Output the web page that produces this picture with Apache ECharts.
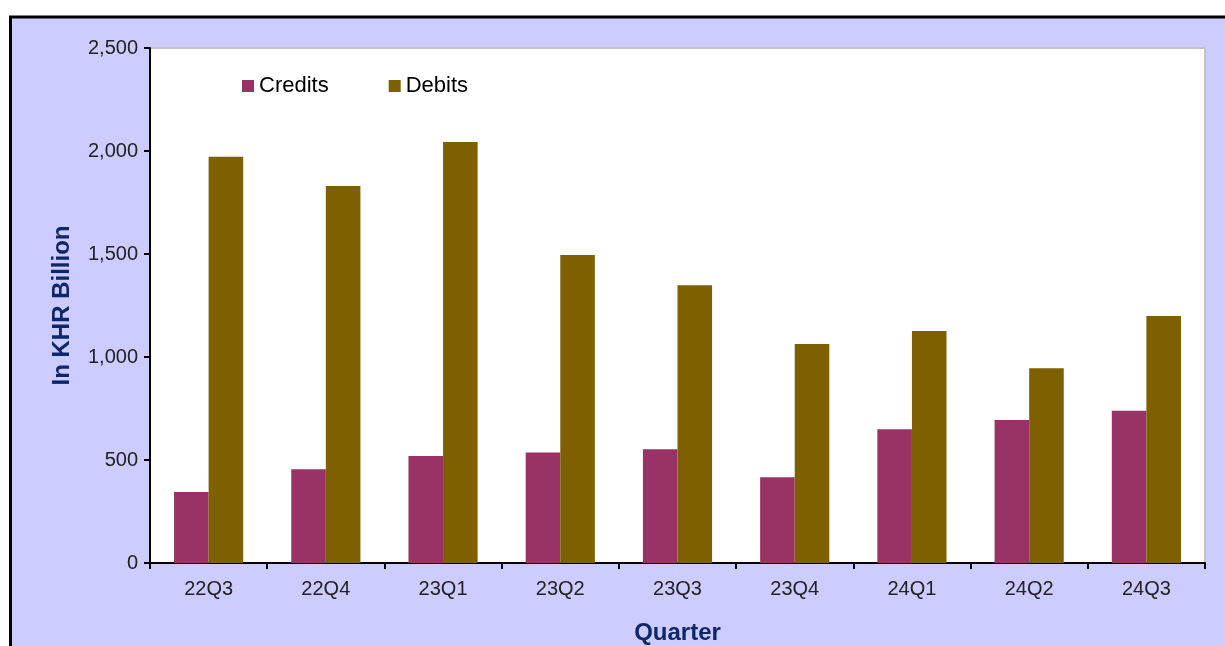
<!DOCTYPE html>
<html>
<head>
<meta charset="utf-8">
<script src="https://cdn.jsdelivr.net/npm/echarts@6/dist/echarts.min.js"></script>
<style>
  html, body { margin: 0; padding: 0; background: #ffffff; }
  #chart { width: 1225px; height: 646px; }
</style>
</head>
<body>
<div id="chart"></div>
<script>
// Quarterly credits and debits, in KHR billion
const quarters = ['22Q3', '22Q4', '23Q1', '23Q2', '23Q3', '23Q4', '24Q1', '24Q2', '24Q3'];
const credits = [345, 455, 519, 537, 552, 416, 649, 694, 739];
const debits = [1972, 1830, 2044, 1495, 1348, 1063, 1126, 945, 1199];
const yTicks = { min: 0, max: 2500, interval: 500 };

const FONT = '"Liberation Sans", Arial, sans-serif';
const TITLE_COLOR = '#10266b';

const chart = echarts.init(document.getElementById('chart'), null, { renderer: 'canvas' });

chart.setOption({
  backgroundColor: '#ffffff',
  animation: false,
  textStyle: { fontFamily: FONT },
  graphic: [
    {
      type: 'rect',
      z: -10,
      silent: true,
      shape: { x: 10.5, y: 17, width: 1400, height: 800 },
      style: { fill: '#ccccff', stroke: '#000000', lineWidth: 3 }
    }
  ],
  grid: {
    left: 150,
    top: 48,
    right: 20,
    bottom: 83,
    show: true,
    backgroundColor: '#ffffff',
    borderColor: '#c4c4c4',
    borderWidth: 2,
    containLabel: false,
    outerBoundsMode: 'none'
  },
  legend: {
    left: 237,
    top: 70,
    itemWidth: 12,
    itemHeight: 12,
    itemGap: 60,
    icon: 'rect',
    textStyle: { fontFamily: FONT, fontSize: 22, color: '#000000' },
    data: ['Credits', 'Debits']
  },
  xAxis: {
    type: 'category',
    data: quarters,
    name: 'Quarter',
    nameLocation: 'middle',
    nameGap: 58,
    nameTextStyle: { fontFamily: FONT, fontSize: 24, fontWeight: 'bold', color: TITLE_COLOR },
    axisLine: { lineStyle: { color: '#000000', width: 2 } },
    axisTick: { show: true, length: 6, lineStyle: { color: '#000000', width: 2 } },
    axisLabel: { fontFamily: FONT, fontSize: 20, color: '#222222', margin: 16 },
    splitLine: { show: false }
  },
  yAxis: {
    type: 'value',
    min: yTicks.min,
    max: yTicks.max,
    interval: yTicks.interval,
    name: 'In KHR Billion',
    nameLocation: 'middle',
    nameGap: 76,
    nameTextStyle: { fontFamily: FONT, fontSize: 24, fontWeight: 'bold', color: TITLE_COLOR },
    axisLine: { show: true, lineStyle: { color: '#000000', width: 2 } },
    axisTick: { show: true, length: 6, lineStyle: { color: '#000000', width: 2 } },
    axisLabel: {
      fontFamily: FONT,
      fontSize: 20,
      color: '#222222',
      margin: 12,
      formatter: v => v.toLocaleString('en-US')
    },
    splitLine: { show: false }
  },
  series: [
    {
      name: 'Credits',
      type: 'bar',
      data: credits,
      barGap: '0%',
      barCategoryGap: '41%',
      itemStyle: { color: '#993366' }
    },
    {
      name: 'Debits',
      type: 'bar',
      data: debits,
      barGap: '0%',
      barCategoryGap: '41%',
      itemStyle: { color: '#7f6000' }
    }
  ]
});
</script>
</body>
</html>
